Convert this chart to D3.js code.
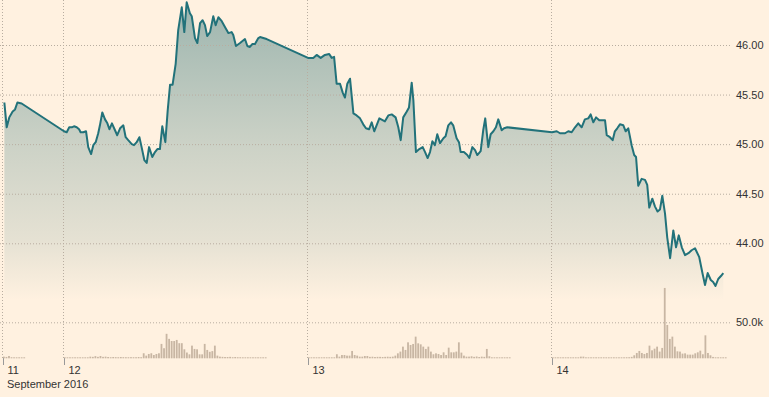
<!DOCTYPE html>
<html>
<head>
<meta charset="utf-8">
<script src="https://d3js.org/d3.v7.min.js"></script>
<style>
  body { margin: 0; background: #fff1e0; }
  svg { display: block; }
  text { font-family: "Liberation Sans", Arial, sans-serif; font-size: 11px; fill: #333; }
</style>
</head>
<body>
<div id="chart"></div>
<script>
// price points: hours after 11 Sep 2016 18:00, and the price
var priceHours = [
  0.13, 0.36, 0.62, 0.95, 1.18, 1.41, 1.84,
  6.00, 6.27, 6.52, 6.76, 6.98, 7.25, 7.48, 7.64, 7.90, 8.16, 8.39, 8.66, 8.88, 9.12,
  9.37, 9.54, 9.77, 10.03, 10.26, 10.46, 10.72, 11.02, 11.24, 11.51, 11.83, 12.07, 12.32,
  12.66, 12.88, 13.15, 13.41, 13.64, 13.90, 14.13, 14.36, 14.68, 14.95, 15.18, 15.44,
  15.67, 15.96, 16.20, 16.43, 16.69, 16.99, 17.24, 17.58, 17.83, 18.07, 18.39, 18.56,
  18.88, 19.11, 19.38, 19.64, 19.87, 20.09, 20.36, 20.68, 20.92, 21.18, 21.51, 21.90,
  22.16, 22.49, 22.65, 22.92, 23.31, 23.80, 24.03, 24.29, 24.52, 24.79, 25.11, 25.28,
  25.60, 25.94,
  30.00, 30.52, 30.85, 31.25, 31.67, 32.09, 32.33, 32.56, 32.82, 33.15, 33.41, 33.64,
  33.87, 34.13, 34.46, 34.79, 35.11, 35.44, 35.70, 36.00, 36.26, 36.52, 37.01, 37.57,
  37.90, 38.23, 38.62, 38.88, 39.12, 39.37, 39.71, 39.93, 40.20, 40.36, 40.62, 40.95,
  41.28, 41.51, 41.77, 42.00, 42.23, 42.49, 42.72, 42.98, 43.31, 43.54, 43.80, 44.06,
  44.29, 44.62, 44.85, 45.02, 45.34, 45.67, 45.86, 46.16, 46.43, 46.65, 46.99, 47.24,
  47.44, 47.73, 47.97, 48.23, 48.49, 48.72, 49.05, 49.28, 49.60,
  54.00, 54.46, 54.79, 55.28, 55.60, 55.94, 56.26, 56.59, 56.92, 57.24, 57.57, 57.80,
  58.06, 58.33, 58.65, 58.98, 59.21, 59.38, 59.70, 59.97, 60.19, 60.42, 60.69, 61.01,
  61.25, 61.50, 61.84, 62.09, 62.26, 62.49, 62.82, 63.15, 63.37, 63.57, 63.86, 64.13,
  64.39, 64.62, 64.85, 65.11, 65.34, 65.61, 65.93, 66.20, 66.46, 66.76, 67.08, 67.41,
  67.74, 68.06, 68.49, 68.82, 69.05, 69.31, 69.61, 69.85, 70.09, 70.35, 70.62, 70.85
];
var priceValues = [
  45.42, 45.17, 45.27, 45.33, 45.35, 45.42, 45.41,
  45.13, 45.12, 45.17, 45.17, 45.18, 45.17, 45.15, 45.12, 45.12, 45.13, 44.97, 44.90, 44.99, 45.02,
  45.11, 45.19, 45.32, 45.25, 45.21, 45.15, 45.21, 45.14, 45.09, 45.16, 45.19, 45.07, 45.04,
  45.00, 44.99, 45.02, 45.07, 44.97, 44.84, 44.81, 44.97, 44.87, 44.92, 44.95, 44.95,
  45.18, 45.02, 45.34, 45.60, 45.60, 45.81, 46.15, 46.38, 46.13, 46.43, 46.32, 46.29,
  46.07, 46.02, 46.22, 46.25, 46.20, 46.09, 46.13, 46.29, 46.20, 46.28, 46.24, 46.17,
  46.12, 46.13, 46.10, 45.99, 46.02, 46.06, 45.99, 45.98, 46.01, 46.01, 46.07, 46.08,
  46.07, 46.06,
  45.87, 45.87, 45.90, 45.87, 45.90, 45.91, 45.87, 45.88, 45.61, 45.61, 45.52, 45.47,
  45.61, 45.66, 45.31, 45.29, 45.26, 45.20, 45.16, 45.15, 45.22, 45.13, 45.26, 45.23,
  45.29, 45.30, 45.27, 45.17, 45.04, 45.27, 45.33, 45.37, 45.62, 45.44, 44.92, 44.95,
  44.97, 44.92, 44.86, 44.92, 45.03, 44.99, 45.10, 45.01, 45.06, 45.08, 45.19, 45.22,
  45.19, 45.06, 45.02, 44.92, 44.92, 44.89, 44.86, 44.97, 44.94, 44.89, 44.93, 45.14,
  45.26, 44.97, 45.10, 45.13, 45.17, 45.25, 45.14, 45.16, 45.17,
  45.12, 45.13, 45.11, 45.11, 45.13, 45.12, 45.17, 45.21, 45.17, 45.25, 45.26, 45.30,
  45.22, 45.27, 45.24, 45.24, 45.24, 45.09, 45.07, 45.04, 45.13, 45.16, 45.20, 45.19,
  45.13, 45.16, 44.99, 44.89, 44.87, 44.58, 44.65, 44.64, 44.59, 44.36, 44.45, 44.37,
  44.32, 44.34, 44.48, 44.30, 44.06, 43.85, 44.13, 43.96, 44.08, 43.96, 43.88, 43.90,
  43.93, 43.95, 43.86, 43.69, 43.58, 43.70, 43.63, 43.61, 43.57, 43.64, 43.67, 43.70
];

// volume (thousands), one bar per 15 minutes from the session start
var sessionStartHours = [0, 6, 30, 54];
var volSession1 = [2.3, 1.9, 3.2, 1.5, 1, 1, 1, 1, 1];
var volSession2 = [
  1, 1, 1, 1, 1, 1, 1, 1, 1, 1,
  2.3, 2, 3, 2, 3.2, 2, 2.3,
  1.8, 1.5, 1.8, 1.6, 1.5, 1.8, 1.6, 1.5, 1.5, 1.6, 1.5, 1.5, 1.8, 1.5,
  7, 3.7, 6, 7, 4.6, 6, 7, 20, 14, 34, 27, 24, 24, 25.5, 21, 21, 12.5, 8, 5.5, 17.6,
  13, 12.5, 5.5, 5.5, 20, 11.6, 9, 10, 17.6, 3.7, 2.3,
  2, 1.8, 1.8, 2, 1.5, 1.8, 1.5, 1.5, 1, 1, 1, 1, 1, 1, 1, 1, 1, 1
];
var volSession3 = [
  1, 1, 1, 1, 1, 1, 1, 1, 1, 1, 1,
  5.6, 2.3, 4.6, 4.6, 3.7, 3.7, 10.2, 4.6, 3.7, 2.3, 2.3, 3.2, 3.2,
  2, 2.2, 1.8, 2, 2, 1.8, 2, 2.2, 2,
  2.3, 3.7, 6.9, 9.3, 16.2, 11.6, 22.2, 18.5, 19.9, 30.1, 20.8, 19.4, 16.2, 13, 16.2,
  9.3, 5.6, 6.9, 6, 4.6, 8.3, 4.6, 14.8, 8.3, 8.3, 9.3, 22.2, 7.9, 3.7, 2.3,
  2.3, 2.8, 2, 2.5, 1.8, 2.3, 2, 13, 2.8,
  1, 1, 1, 1, 1, 1, 1, 1
];
var volSession4 = [
  1, 1, 1, 1, 1, 1, 1, 1, 1, 1, 1, 2.3, 2.3, 1.2, 1, 1, 1.4, 1.4, 1.4, 1.2, 1.4, 1.2,
  1, 1, 1, 1, 1, 1, 1, 1.5, 1.5, 2,
  4.2, 7.4, 10.2, 7.4, 6, 7.4, 17.6, 11.1, 13.4, 16.2, 9.3, 14.4, 97.7, 46.3, 26.9,
  30.1, 16.2, 9.7, 9.3, 6.5, 6.9, 5.1, 5.1, 5.1, 6.9, 8.3, 10.6, 5.6, 31.9, 7.4, 4.2,
  1.9, 1.4, 1.4, 0.9, 0.9, 0.9
];
var volumeSessions = [volSession1, volSession2, volSession3, volSession4];

var priceTicks = [44, 44.5, 45, 45.5, 46];
var volumeTicks = [50];
var dayTicks = ["2016-09-11T18:00", "2016-09-12T00:00", "2016-09-13T00:00", "2016-09-14T00:00"];

var width = 769, height = 397;
var parse = d3.timeParse("%Y-%m-%dT%H:%M");
var base = parse("2016-09-11T18:00");
function atHour(h) { return d3.timeMinute.offset(base, Math.round(h * 60)); }

var svg = d3.select("#chart").append("svg")
  .attr("width", width).attr("height", height);

svg.append("rect").attr("width", width).attr("height", height).attr("fill", "#fff1e0");

var x = d3.scaleTime().domain([base, d3.timeHour.offset(base, 72)]).range([3, 735]);
var y = d3.scaleLinear().domain([44, 46]).range([243.3, 45]);
var yv = d3.scaleLinear().domain([0, 50]).range([358.3, 322.3]);

var prices = priceHours.map(function(h, i) { return {t: atHour(h), p: priceValues[i]}; });

// gradient under the price line
var grad = svg.append("defs").append("linearGradient")
  .attr("id", "fade").attr("gradientUnits", "userSpaceOnUse")
  .attr("x1", 0).attr("x2", 0).attr("y1", 0).attr("y2", 300);
[[0, 0.46], [0.13, 0.4], [0.5, 0.23], [0.8, 0.12], [1, 0]].forEach(function(s) {
  grad.append("stop").attr("offset", s[0]).attr("stop-color", "#286e74").attr("stop-opacity", s[1]);
});

svg.append("path")
  .datum(prices)
  .attr("fill", "url(#fade)")
  .attr("d", d3.area().x(function(d) { return x(d.t); }).y0(300).y1(function(d) { return y(d.p); }));

// horizontal grid + right labels
var gridW = 731;
var yAxis = svg.append("g")
  .call(d3.axisRight(y).tickValues(priceTicks).tickSize(gridW).tickPadding(5).tickFormat(d3.format(".2f")));
var vAxis = svg.append("g")
  .call(d3.axisRight(yv).tickValues(volumeTicks).tickSize(gridW).tickPadding(5).tickFormat(function(d) { return d.toFixed(1) + "k"; }));
[yAxis, vAxis].forEach(function(g) {
  g.select(".domain").remove();
  g.selectAll(".tick line").attr("stroke", "#b8ada0").attr("stroke-dasharray", "1,2");
  g.selectAll(".tick text").attr("fill", "#333").style("font-size", "11px").attr("font-family", null);
});

// vertical day grid
var days = dayTicks.map(parse);
svg.append("g").selectAll("line").data(days).enter().append("line")
  .attr("x1", function(d) { return Math.round(x(d)) - 0.5; })
  .attr("x2", function(d) { return Math.round(x(d)) - 0.5; })
  .attr("y1", 0).attr("y2", 358)
  .attr("stroke", "#b8ada0").attr("stroke-dasharray", "1,2");

var xAxis = svg.append("g").attr("transform", "translate(0,358)")
  .call(d3.axisBottom(x).tickValues(days).tickSize(7).tickPadding(1).tickFormat(d3.timeFormat("%-d")));
xAxis.select(".domain").remove();
xAxis.selectAll(".tick line").attr("stroke", "#999");
xAxis.selectAll(".tick text").attr("text-anchor", "start").attr("dx", 4)
  .attr("fill", "#333").style("font-size", "11px").attr("font-family", null);

svg.append("text").attr("x", 7).attr("y", 388).text("September 2016");

// volume bars
var bars = [];
volumeSessions.forEach(function(vals, s) {
  vals.forEach(function(v, i) {
    bars.push({t: atHour(sessionStartHours[s] + i * 0.25), v: v});
  });
});
svg.append("g").selectAll("rect").data(bars).enter().append("rect")
  .attr("x", function(d) { return x(d.t); })
  .attr("width", 1.8)
  .attr("y", function(d) { return Math.min(yv(d.v), 357.3); })
  .attr("height", function(d) { return Math.max(358.3 - yv(d.v), 1); })
  .attr("fill", "#c8b6a3");

// price line
svg.append("path")
  .datum(prices)
  .attr("fill", "none")
  .attr("stroke", "#22727a")
  .attr("stroke-width", 2)
  .attr("stroke-linejoin", "round")
  .attr("d", d3.line().x(function(d) { return x(d.t); }).y(function(d) { return y(d.p); }));
</script>
</body>
</html>
